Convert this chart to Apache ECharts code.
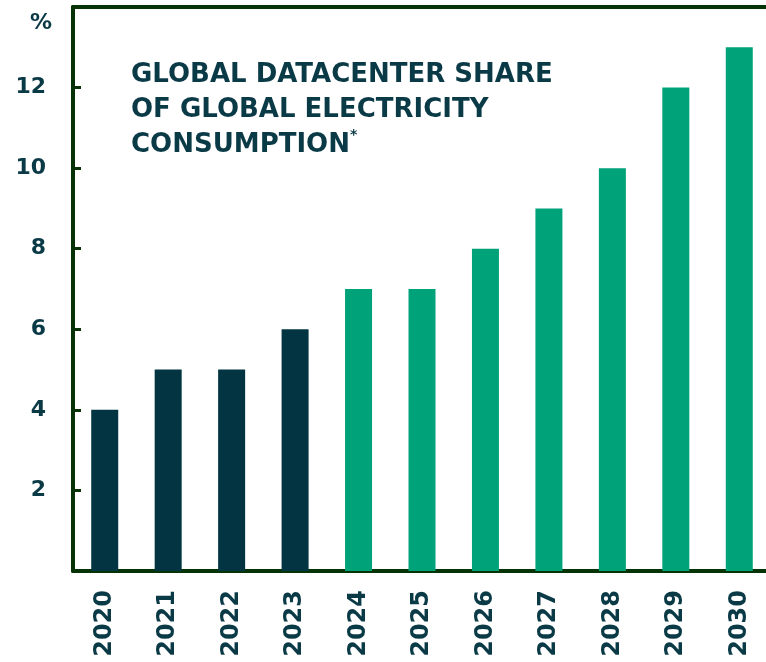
<!DOCTYPE html>
<html>
<head>
<meta charset="utf-8">
<script src="https://cdn.jsdelivr.net/npm/echarts@6/dist/echarts.min.js"></script>
<style>
  html, body { margin: 0; padding: 0; background: #fff; }
  #chart { width: 766px; height: 662px; }
</style>
</head>
<body>
<div id="chart"></div>
<script>
// data
const years = ["2020", "2021", "2022", "2023", "2024", "2025", "2026", "2027", "2028", "2029", "2030"];
const shares = [4, 5, 5, 6, 7, 7, 8, 9, 10, 12, 13];
const actualCount = 4; // first four bars are dark
const yTicks = [2, 4, 6, 8, 10, 12];

const darkColor = "#023541";
const greenColor = "#00a27a";
const axisColor = "#053305";
const textColor = "#0b3a47";

const chart = echarts.init(document.getElementById("chart"));

chart.setOption({
  animation: false,
  grid: {
    left: 73,
    top: 7,
    width: 698,
    height: 564,
    containLabel: false,
    outerBoundsMode: "none"
  },
  graphic: [
    {
      type: "text",
      left: 30,
      top: 12,
      style: {
        text: "%",
        font: "bold 22px 'DejaVu Sans'",
        fill: textColor
      }
    },
    {
      type: "text",
      left: 131,
      top: 58,
      style: {
        text: "GLOBAL DATACENTER SHARE\nOF GLOBAL ELECTRICITY\nCONSUMPTION{s|*}",
        font: "bold 26px 'DejaVu Sans'",
        lineHeight: 35,
        fill: textColor,
        rich: {
          s: { font: "bold 14px 'DejaVu Sans'", fill: textColor, verticalAlign: "top", padding: [0, 0, 12, 0] }
        }
      }
    }
  ],
  xAxis: [
    {
      type: "category",
      data: years,
      axisLine: { show: true, lineStyle: { color: axisColor, width: 4 } },
      axisTick: { show: false },
      axisLabel: {
        rotate: 90,
        margin: 19,
        color: textColor,
        fontFamily: "DejaVu Sans",
        fontWeight: "bold",
        fontSize: 24
      }
    },
    {
      // top frame line only
      type: "category",
      position: "top",
      data: years,
      axisLine: { show: true, lineStyle: { color: axisColor, width: 4 } },
      axisTick: { show: false },
      axisLabel: { show: false }
    }
  ],
  yAxis: {
    type: "value",
    min: 0,
    max: 14,
    interval: 2,
    splitLine: { show: false },
    axisLine: { show: true, lineStyle: { color: axisColor, width: 4 } },
    axisTick: { show: true, inside: true, length: 8, lineStyle: { color: axisColor, width: 3 } },
    axisLabel: {
      margin: 27,
      color: textColor,
      fontFamily: "DejaVu Sans",
      fontWeight: "bold",
      fontSize: 22,
      formatter: (v) => (yTicks.indexOf(v) >= 0 ? String(v) : "")
    }
  },
  series: [
    {
      type: "bar",
      barWidth: 27,
      data: shares.map((v, i) => ({
        value: v,
        itemStyle: { color: i < actualCount ? darkColor : greenColor }
      }))
    }
  ]
});
</script>
</body>
</html>
